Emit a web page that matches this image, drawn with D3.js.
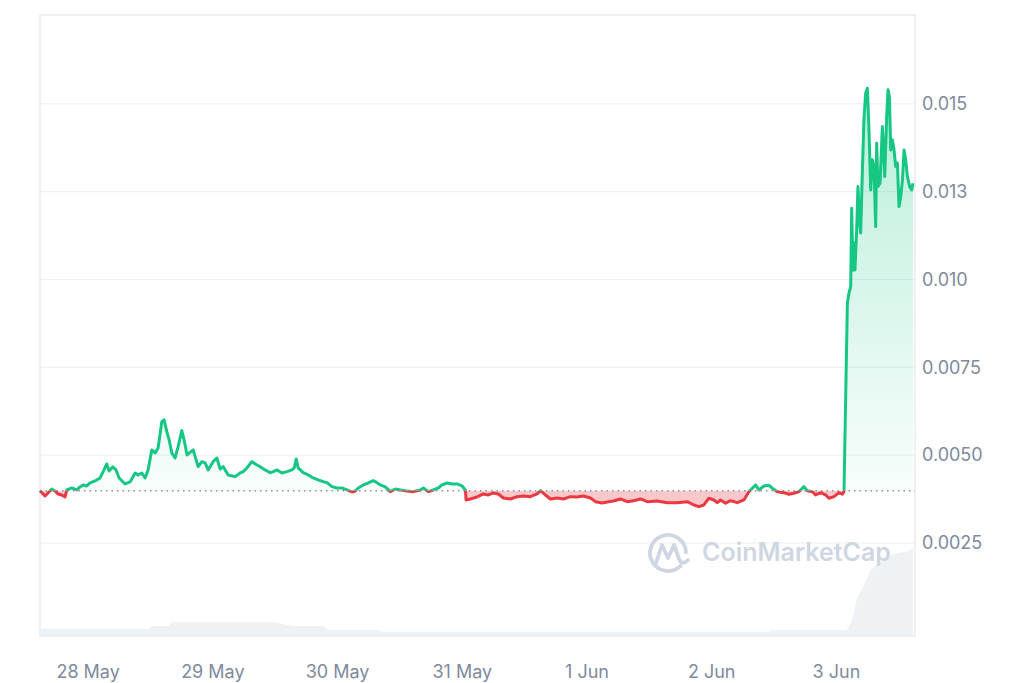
<!DOCTYPE html>
<html>
<head>
<meta charset="utf-8">
<script src="https://cdn.jsdelivr.net/npm/d3@7/dist/d3.min.js"></script>
<style>
  html, body { margin: 0; padding: 0; background: #fff; }
  svg { display: block; }
</style>
</head>
<body>
<svg id="chart" width="1024" height="683"></svg>
<script>
// ---------- DATA ----------
const startTime = Date.UTC(2023, 4, 27, 14, 50);   // first sample
const spanHours = 168;

// hours after startTime
const priceHours = [0,0.96,1.54,2.25,2.89,3.47,4.18,4.82,5.14,6.11,7.07,7.70,8.28,8.99,9.63,10.59,11.56,12.13,12.85,13.29,14.00,14.64,15.22,16.37,17.33,18.30,18.87,19.59,20.22,20.80,21.51,22.15,22.73,23.44,23.88,24.40,24.85,25.37,26.00,26.58,27.29,27.73,28.31,29.47,30.43,31.14,31.78,32.36,33.32,34.03,34.67,35.25,36.21,37.56,38.52,39.10,39.81,40.77,41.74,42.37,43.34,44.30,44.88,45.65,46.55,47.51,48.48,48.92,49.31,49.69,50.65,51.62,52.58,53.54,54.51,55.22,56.18,57.14,58.11,59.07,60.03,60.67,61.25,62.21,63.17,64.14,64.85,65.48,66.45,67.41,68.37,69.34,70.63,71.84,73.19,73.77,74.73,75.69,76.65,77.37,78.33,79.29,80.26,81.22,81.86,81.99,82.82,84.11,85.32,86.28,87.25,88.21,89.17,90.52,91.81,93.03,94.37,95.66,96.30,97.26,98.23,99.52,100.73,102.08,103.37,104.58,105.93,106.89,108.18,109.14,110.36,111.71,113.00,114.21,115.56,116.85,118.78,120.70,122.63,124.56,125.83,126.79,127.75,128.71,129.68,130.33,130.97,131.93,132.89,134.18,135.46,136.42,137.07,137.71,138.35,139.31,140.27,140.93,141.89,143.16,144.12,145.09,146.05,147.01,147.67,148.63,149.26,150.23,151.19,151.83,152.79,153.75,154.41,154.72,155.37,155.68,156.01,156.20,156.45,156.64,156.83,157.16,157.41,157.68,157.93,158.26,158.56,158.89,159.22,159.53,159.86,160.18,160.49,160.82,161.01,161.26,161.65,162.11,162.56,162.94,163.19,163.46,163.71,164.04,164.35,164.67,165.00,165.31,165.64,165.97,166.28,166.60,166.93,167.37,167.76,168.00];

// price in USD
const prices = [0.003990,0.003838,0.003924,0.004038,0.003981,0.003895,0.003867,0.003810,0.004009,0.004066,0.004009,0.004095,0.004152,0.004123,0.004208,0.004265,0.004351,0.004522,0.004749,0.004550,0.004664,0.004579,0.004351,0.004180,0.004237,0.004493,0.004436,0.004493,0.004351,0.004579,0.005148,0.005063,0.005205,0.005954,0.006002,0.005669,0.005433,0.005063,0.004920,0.005242,0.005698,0.005433,0.005006,0.005148,0.004673,0.004815,0.004778,0.004579,0.004815,0.004920,0.004607,0.004673,0.004436,0.004388,0.004493,0.004530,0.004636,0.004815,0.004721,0.004673,0.004579,0.004502,0.004530,0.004579,0.004493,0.004530,0.004579,0.004636,0.004892,0.004636,0.004502,0.004436,0.004351,0.004294,0.004245,0.004217,0.004103,0.004066,0.004066,0.004009,0.003952,0.003981,0.004066,0.004152,0.004208,0.004274,0.004217,0.004152,0.004095,0.003961,0.004038,0.004009,0.003981,0.003961,0.004009,0.004066,0.003961,0.004009,0.004066,0.004152,0.004208,0.004180,0.004180,0.004123,0.004009,0.003724,0.003753,0.003810,0.003895,0.003867,0.003924,0.003895,0.003781,0.003753,0.003818,0.003838,0.003818,0.003895,0.003989,0.003867,0.003753,0.003781,0.003753,0.003818,0.003810,0.003838,0.003781,0.003676,0.003639,0.003667,0.003696,0.003753,0.003676,0.003704,0.003753,0.003676,0.003696,0.003648,0.003648,0.003676,0.003582,0.003534,0.003582,0.003773,0.003724,0.003648,0.003724,0.003630,0.003704,0.003648,0.003724,0.003961,0.004058,0.004152,0.004009,0.004123,0.004143,0.004058,0.003961,0.003932,0.003887,0.003915,0.003961,0.004103,0.003989,0.003961,0.003867,0.003932,0.003867,0.003773,0.003818,0.003932,0.003887,0.003961,0.009334,0.009619,0.009798,0.012030,0.010273,0.011042,0.010273,0.011412,0.012645,0.011697,0.011327,0.013121,0.014545,0.015305,0.015447,0.014260,0.012551,0.013406,0.013215,0.011506,0.013881,0.012645,0.012742,0.014354,0.012930,0.014638,0.015399,0.015208,0.013690,0.013975,0.013690,0.013215,0.013312,0.012076,0.012361,0.012836,0.013690,0.013406,0.012930,0.012645,0.012551,0.012742];

// 24h volume (thousand USD)
const volumeHours = [0,20.8,21.6,24.7,25.4,45.3,47.2,48.7,54.5,55.3,65.1,65.7,140.2,140.8,155.2,156.2,157.3,158.3,159.9,161.4,163.1,164.9,166.9,168.0];
const volumes = [70,70,100,100,137,137,115,100,100,60,60,43,43,60,60,150,393,480,660,740,793,830,843,880];

const yTickValues = [0.0025, 0.005, 0.0075, 0.01, 0.0125, 0.015];
const yTickLabels = ["0.0025", "0.0050", "0.0075", "0.010", "0.013", "0.015"];
const xTickDays = [[2023,4,28],[2023,4,29],[2023,4,30],[2023,4,31],[2023,5,1],[2023,5,2],[2023,5,3]];
const xTickLabels = ["28 May", "29 May", "30 May", "31 May", "1 Jun", "2 Jun", "3 Jun"];

// ---------- CHART ----------
const svg = d3.select("#chart");
const box = { left: 40, right: 915, top: 15, bottom: 636 };
const GREEN = "#16c784", RED = "#ea3943";

const x = d3.scaleUtc()
  .domain([new Date(startTime), new Date(startTime + spanHours * 3600e3)])
  .range([40, 913]);
const y = d3.scaleLinear().domain([0, 0.01753]).range([630.8, 15]);
const yVol = d3.scaleLinear().domain([0, 1000]).range([636, 536]);

const t = h => new Date(startTime + h * 3600e3);
const data = priceHours.map((h, i) => ({ t: t(h), v: prices[i] }));
const vol = volumeHours.map((h, i) => ({ t: t(h), v: volumes[i] }));
const base = prices[0];
const yb = y(base);

svg.append("rect").attr("width", 1024).attr("height", 683).attr("fill", "#fff");

const defs = svg.append("defs");
defs.append("clipPath").attr("id", "above").append("rect")
  .attr("x", 0).attr("y", 0).attr("width", 1024).attr("height", yb);
defs.append("clipPath").attr("id", "below").append("rect")
  .attr("x", 0).attr("y", yb).attr("width", 1024).attr("height", 683 - yb);

const gg = defs.append("linearGradient").attr("id", "gGreen")
  .attr("gradientUnits", "userSpaceOnUse")
  .attr("x1", 0).attr("x2", 0).attr("y1", y(d3.max(prices))).attr("y2", yb);
gg.append("stop").attr("offset", 0).attr("stop-color", GREEN).attr("stop-opacity", 0.3);
gg.append("stop").attr("offset", 1).attr("stop-color", GREEN).attr("stop-opacity", 0.03);

// grid lines
svg.append("g").selectAll("line").data(yTickValues).join("line")
  .attr("x1", box.left).attr("x2", box.right)
  .attr("y1", d => y(d)).attr("y2", d => y(d))
  .attr("stroke", "#eceef1").attr("stroke-width", 1);

// volume area
svg.append("path").datum(vol)
  .attr("fill", "#eff2f5")
  .attr("d", d3.area().x(d => x(d.t)).y0(yVol(0)).y1(d => yVol(d.v)));

// frame
svg.append("rect")
  .attr("x", box.left).attr("y", box.top)
  .attr("width", box.right - box.left).attr("height", box.bottom - box.top)
  .attr("fill", "none").attr("stroke", "#ebebeb").attr("stroke-width", 1.5);

// watermark
const wm = svg.append("g").attr("fill", "none").attr("stroke", "#cfd6e2");
wm.append("path")
  .attr("d", d3.arc()({ innerRadius: 18, outerRadius: 18, startAngle: 2.3, endAngle: 2.3 + 5.6 }))
  .attr("transform", "translate(668,553)")
  .attr("stroke-width", 3.8);
wm.append("path")
  .attr("d", "M656,563 L662,545 L668,558 L674,545 L679,559 Q682,566 688,560")
  .attr("stroke-width", 3.8).attr("stroke-linejoin", "round").attr("stroke-linecap", "round");
svg.append("text").attr("x", 702).attr("y", 561)
  .attr("font-family", "Inter, 'Open Sans', sans-serif").attr("font-size", 25)
  .attr("font-weight", 600).attr("fill", "#cfd6e2").text("CoinMarketCap");

// fills
const area = d3.area().x(d => x(d.t)).y0(yb).y1(d => y(d.v));
svg.append("path").datum(data).attr("clip-path", "url(#above)")
  .attr("fill", "url(#gGreen)").attr("d", area);
svg.append("path").datum(data).attr("clip-path", "url(#below)")
  .attr("fill", RED).attr("fill-opacity", 0.28).attr("d", area);

// baseline
svg.append("line")
  .attr("x1", box.left).attr("x2", box.right).attr("y1", yb).attr("y2", yb)
  .attr("stroke", "#8a92a5").attr("stroke-width", 1.5).attr("stroke-dasharray", "1.5 4");

// price line
const line = d3.line().x(d => x(d.t)).y(d => y(d.v));
svg.append("path").datum(data).attr("clip-path", "url(#above)")
  .attr("fill", "none").attr("stroke", GREEN).attr("stroke-width", 3)
  .attr("stroke-linejoin", "round").attr("d", line);
svg.append("path").datum(data).attr("clip-path", "url(#below)")
  .attr("fill", "none").attr("stroke", RED).attr("stroke-width", 3)
  .attr("stroke-linejoin", "round").attr("d", line);

// y axis (right)
const yAxis = d3.axisRight(y).tickValues(yTickValues).tickSize(0).tickPadding(0)
  .tickFormat((d, i) => yTickLabels[i]);
const gy = svg.append("g").attr("transform", "translate(922,0)").call(yAxis);
gy.select(".domain").remove();
gy.selectAll("text").attr("font-family", "Inter, sans-serif").attr("font-size", 18)
  .attr("fill", "#808a9d");

// x axis
const xTicks = xTickDays.map(d => new Date(Date.UTC(d[0], d[1], d[2])));
const xAxis = d3.axisBottom(x).tickValues(xTicks).tickSize(0).tickPadding(0)
  .tickFormat((d, i) => xTickLabels[i]);
const gx = svg.append("g").attr("transform", "translate(0,665)").call(xAxis);
gx.select(".domain").remove();
gx.selectAll("text").attr("font-family", "Inter, sans-serif").attr("font-size", 18)
  .attr("fill", "#808a9d");
</script>
</body>
</html>
